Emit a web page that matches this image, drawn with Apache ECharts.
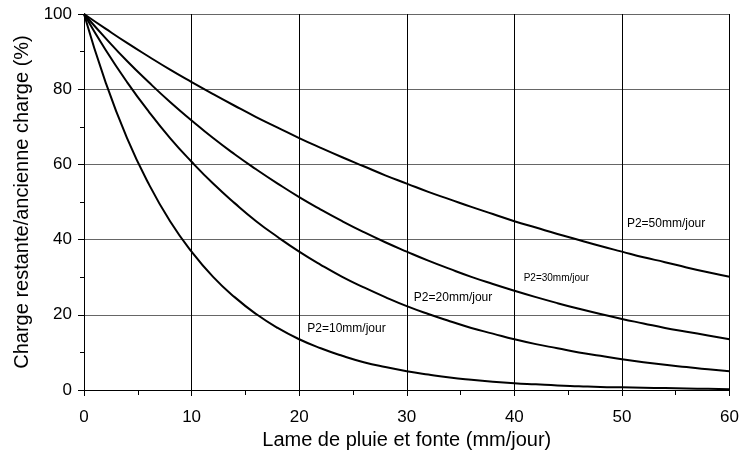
<!DOCTYPE html>
<html><head><meta charset="utf-8">
<script src="https://cdn.jsdelivr.net/npm/echarts@6/dist/echarts.min.js"></script>
<style>html,body{margin:0;padding:0;background:#fff}#c{width:742px;height:456px}</style>
</head><body><div id="c"></div>
<script>
const xValues = [0,2,4,6,8,10,12,14,16,18,20,22,24,26,28,30,32,34,36,38,40,42,44,46,48,50,52,54,56,58,60];
const p10 = [100,81.9,67.0,54.9,44.9,36.8,30.1,24.7,20.2,16.5,13.5,11.1,9.1,7.4,6.1,5.0,4.1,3.3,2.7,2.2,1.8,1.5,1.2,1.0,0.8,0.7,0.6,0.5,0.4,0.3,0.2];
const p20 = [100,90.5,81.9,74.1,67.0,60.7,54.9,49.7,44.9,40.7,36.8,33.3,30.1,27.3,24.7,22.3,20.2,18.3,16.5,15.0,13.5,12.2,11.1,10.0,9.1,8.2,7.4,6.7,6.1,5.5,5.0];
const p30 = [100,93.6,87.5,81.9,76.6,71.7,67.0,62.7,58.7,54.9,51.3,48.0,44.9,42.0,39.3,36.8,34.4,32.2,30.1,28.2,26.4,24.7,23.1,21.6,20.2,18.9,17.7,16.5,15.5,14.5,13.5];
const p50 = [100,96.1,92.3,88.7,85.2,81.9,78.7,75.6,72.6,69.8,67.0,64.4,61.9,59.5,57.1,54.9,52.7,50.7,48.7,46.8,44.9,43.2,41.5,39.9,38.3,36.8,35.3,34.0,32.6,31.3,30.1];
const seriesNames = ['P2=10mm/jour','P2=20mm/jour','P2=30mm/jour','P2=50mm/jour'];
const labelPos = [[24.4,16.2],[34.3,24.5],[43.9,29.8],[54.1,44.1]];
const labelSizes = [12,12,10,12];
const xTitle = 'Lame de pluie et fonte (mm/jour)';
const yTitle = 'Charge restante/ancienne charge (%)';

const allData = [p10,p20,p30,p50];
const chart = echarts.init(document.getElementById('c'));
const font = 'Liberation Sans, Arial, sans-serif';
chart.setOption({
  animation:false,
  backgroundColor:'#fff',
  grid:{left:84,right:12,top:14,bottom:66},
  xAxis:{
    type:'value',min:0,max:60,interval:10,
    name:xTitle,nameLocation:'middle',nameGap:37,
    nameTextStyle:{fontFamily:font,fontSize:20,color:'#000'},
    axisLine:{lineStyle:{color:'#000',width:1}},
    axisTick:{show:true,length:6,lineStyle:{color:'#000'}},
    minorTick:{show:true,splitNumber:2,length:5,lineStyle:{color:'#000'}},
    axisLabel:{fontFamily:font,fontSize:17,color:'#000',margin:19},
    splitLine:{show:true,lineStyle:{color:'#000',width:1}}
  },
  yAxis:{
    type:'value',min:0,max:100,interval:20,
    name:yTitle,nameLocation:'middle',nameGap:47,
    nameTextStyle:{fontFamily:font,fontSize:20,color:'#000'},
    axisLine:{show:true,lineStyle:{color:'#000',width:1}},
    axisTick:{show:true,length:6,lineStyle:{color:'#000'}},
    minorTick:{show:true,splitNumber:2,length:4,lineStyle:{color:'#000'}},
    axisLabel:{fontFamily:font,fontSize:17,color:'#000',margin:12},
    splitLine:{show:true,lineStyle:{color:'#666',width:1}}
  },
  series: allData.map((d,i)=>({
    name:seriesNames[i],type:'line',smooth:true,showSymbol:false,
    data:xValues.map((x,j)=>[x,d[j]]),
    lineStyle:{color:'#000',width:2},
    z:2,
    markPoint:{
      symbol:'rect',symbolSize:0,silent:true,
      data:[{coord:labelPos[i],value:seriesNames[i]}],
      label:{show:true,position:'inside',formatter:seriesNames[i],
        fontFamily:font,fontSize:labelSizes[i],color:'#000',
        backgroundColor:'#fff',padding:[1,2]}
    }
  }))
});
</script></body></html>
